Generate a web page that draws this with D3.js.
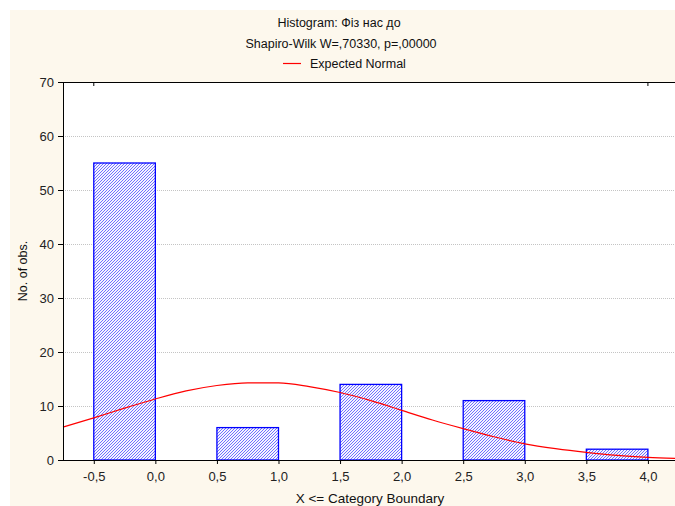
<!DOCTYPE html>
<html lang="en">
<head>
<meta charset="utf-8">
<title>Histogram</title>
<script src="https://d3js.org/d3.v7.min.js"></script>
<style>
  body { margin: 0; background: #ffffff; }
  svg { display: block; font-family: "Liberation Sans", Arial, sans-serif; }
  .grid line { stroke: #c4c4c4; stroke-dasharray: 1,1; }
  .axis text { font-size: 13px; fill: #222; }
</style>
</head>
<body>
<div class="chart"></div>
<script>
// histogram bins (left boundary, right boundary) and counts
var binLeft = [-0.5, 0.5, 1.5, 2.5, 3.5];
var binRight = [0.0, 1.0, 2.0, 3.0, 4.0];
var counts = [55, 6, 14, 11, 2];

// expected normal curve
var curveX = [-0.75, -0.5, -0.25, 0.0, 0.25, 0.5, 0.75, 1.0, 1.25, 1.5, 1.75, 2.0, 2.25, 2.5, 2.75, 3.0, 3.25, 3.5, 3.75, 4.0, 4.22];
var curveY = [6.1, 7.8, 9.6, 11.3, 12.8, 13.8, 14.3, 14.3, 13.6, 12.5, 11.0, 9.2, 7.4, 5.8, 4.3, 3.0, 2.1, 1.4, 0.85, 0.5, 0.3];

var xTicks = [-0.5, 0.0, 0.5, 1.0, 1.5, 2.0, 2.5, 3.0, 3.5, 4.0];
var yTicks = [0, 10, 20, 30, 40, 50, 60, 70];

var width = 675, height = 506;
var plot = {left: 63, right: 675, top: 82, bottom: 460};

var svg = d3.select(".chart").append("svg")
    .attr("width", width)
    .attr("height", height);

// cream panel
svg.append("rect")
    .attr("x", 10).attr("y", 10)
    .attr("width", width - 10).attr("height", height - 10)
    .attr("fill", "#fdf8ed");

var x = d3.scaleLinear().domain([-0.75, 4.22]).range([plot.left, plot.right]);
var y = d3.scaleLinear().domain([0, 70]).range([plot.bottom, plot.top]);

// hatch pattern
var defs = svg.append("defs");
var pat = defs.append("pattern")
    .attr("id", "hatch")
    .attr("patternUnits", "userSpaceOnUse")
    .attr("width", 3).attr("height", 3);
pat.append("rect").attr("width", 3).attr("height", 3).attr("fill", "#f4f4ff");
pat.append("path")
    .attr("d", "M-1,1 l2,-2 M0,3 l3,-3 M2,4 l2,-2")
    .attr("stroke", "#4646ff")
    .attr("stroke-width", 0.75);

// white plot area
svg.append("rect")
    .attr("x", plot.left).attr("y", plot.top)
    .attr("width", plot.right - plot.left).attr("height", plot.bottom - plot.top)
    .attr("fill", "#ffffff");

// grid
svg.append("g").attr("class", "grid")
    .selectAll("line")
    .data(yTicks.filter(function(d) { return d > 0 && d < 70; }))
    .enter().append("line")
    .attr("x1", plot.left).attr("x2", plot.right)
    .attr("y1", function(d) { return y(d) + 0.5; })
    .attr("y2", function(d) { return y(d) + 0.5; });

// bars
svg.append("g").selectAll("rect")
    .data(counts)
    .enter().append("rect")
    .attr("x", function(d, i) { return x(binLeft[i]); })
    .attr("width", function(d, i) { return x(binRight[i]) - x(binLeft[i]); })
    .attr("y", function(d) { return y(d); })
    .attr("height", function(d) { return y(0) - y(d); })
    .attr("fill", "url(#hatch)")
    .attr("stroke", "#0000ff")
    .attr("stroke-width", 1.3);

// normal curve
var line = d3.line()
    .x(function(d, i) { return x(curveX[i]); })
    .y(function(d) { return y(d); })
    .curve(d3.curveMonotoneX);
svg.append("path")
    .datum(curveY)
    .attr("d", line)
    .attr("fill", "none")
    .attr("stroke", "#ff0000")
    .attr("stroke-width", 1.2);

// axes
var yAxis = d3.axisLeft(y).tickValues(yTicks).tickSize(5).tickPadding(4)
    .tickFormat(d3.format("d"));
svg.append("g").attr("class", "axis")
    .attr("transform", "translate(" + plot.left + ",0)")
    .call(yAxis)
    .call(function(g) { g.select(".domain").attr("stroke", "#000"); });

var fmt = function(d) { return d3.format(".1f")(d).replace(".", ",").replace("−", "-"); };
var xAxis = d3.axisBottom(x).tickValues(xTicks).tickSize(4).tickPadding(8)
    .tickFormat(fmt);
svg.append("g").attr("class", "axis")
    .attr("transform", "translate(0," + plot.bottom + ")")
    .call(xAxis)
    .call(function(g) {
        g.select(".domain").attr("d", "M" + plot.left + ",0.5H" + plot.right).attr("stroke", "#000");
    });

// top border with small ticks
svg.append("line")
    .attr("x1", plot.left).attr("x2", plot.right)
    .attr("y1", plot.top + 0.5).attr("y2", plot.top + 0.5)
    .attr("stroke", "#000");
svg.append("g").selectAll("line")
    .data([-0.5, 4.0])
    .enter().append("line")
    .attr("x1", function(d) { return x(d); }).attr("x2", function(d) { return x(d); })
    .attr("y1", plot.top).attr("y2", plot.top + 4)
    .attr("stroke", "#000");

// titles
svg.append("text")
    .attr("x", 339).attr("y", 27)
    .attr("text-anchor", "middle").attr("font-size", 12.5).attr("fill", "#111")
    .text("Histogram: Фіз нас до");
svg.append("text")
    .attr("x", 341).attr("y", 48)
    .attr("text-anchor", "middle").attr("font-size", 12.5).attr("fill", "#111")
    .text("Shapiro-Wilk W=,70330, p=,00000");

// legend
svg.append("line")
    .attr("x1", 283).attr("x2", 301)
    .attr("y1", 63.5).attr("y2", 63.5)
    .attr("stroke", "#ff0000").attr("stroke-width", 1.2);
svg.append("text")
    .attr("x", 310).attr("y", 68)
    .attr("font-size", 12.5).attr("fill", "#111")
    .text("Expected Normal");

// axis titles
svg.append("text")
    .attr("transform", "translate(27,271) rotate(-90)")
    .attr("text-anchor", "middle").attr("font-size", 12.5).attr("fill", "#111")
    .text("No. of obs.");
svg.append("text")
    .attr("x", 370).attr("y", 503)
    .attr("text-anchor", "middle").attr("font-size", 13.5).attr("fill", "#111")
    .text("X <= Category Boundary");
</script>
</body>
</html>
